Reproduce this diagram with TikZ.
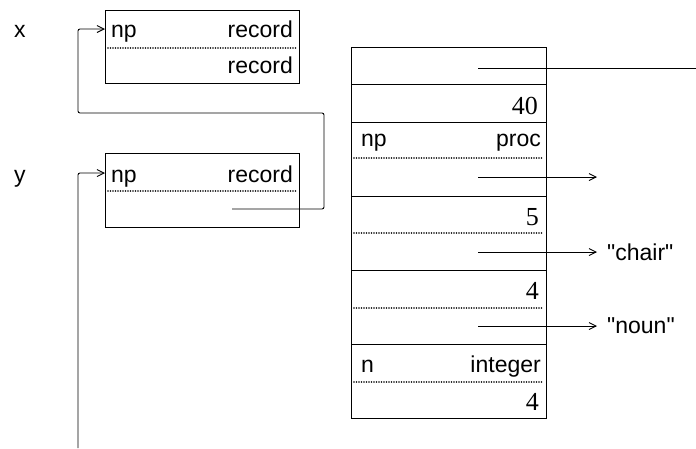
\documentclass[tikz,border=0pt]{standalone}
\usepackage{fontspec}
\setmainfont{Liberation Sans}
\newfontfamily\plainsans{Liberation Sans}[Ligatures=ResetAll]
\newfontfamily\numfont{Liberation Serif}
\usetikzlibrary{arrows.meta,calc}
\begin{document}
\begin{tikzpicture}[x=1pt,y=-1pt,
  cell/.style={draw,line width=1pt,inner sep=0pt,anchor=north west,minimum width=195pt},
  dots/.style={line width=1.7pt,dash pattern=on 0pt off 2.5pt,line cap=round},
  lab/.style={font=\fontsize{23}{27}\selectfont,inner sep=0pt},
  num/.style={font=\fontsize{26}{30}\selectfont\numfont,inner sep=0pt},
  wire/.style={line width=0.9pt},
  conn/.style={line width=0.9pt,-{Straight Barb[length=7pt,width=7pt]}}]
\useasboundingbox (0,0) rectangle (696,448);
% variable labels
\node[lab,anchor=base west] (lx) at (14,37) {x};
\node[lab,anchor=base west] (ly) at (14,182) {y};
% box x
\node[cell,minimum width=194pt,minimum height=73pt] (bx) at (105,10) {};
\draw[dots] (108,48) -- (296,48);
\node[lab,anchor=base west] (bxnp) at (111,37) {np};
\node[lab,anchor=base east] (bxr1) at (293,37) {record};
\node[lab,anchor=base east] (bxr2) at (293,73) {record};
% box y
\node[cell,minimum width=194pt,minimum height=74pt] (by) at (105,153) {};
\draw[dots] (108,191) -- (296,191);
\node[lab,anchor=base west] (bynp) at (111,182) {np};
\node[lab,anchor=base east] (byr1) at (293,182) {record};
% connectors of the boxes
\coordinate (py) at (232,209);
\coordinate (yfoot) at (78,448);
\draw[conn,rounded corners=2pt] (py) -- (324,209) -- (324,113) -- (78,113) -- (78,29) -- ($(bx.north west)+(0,19)$);
\draw[conn,rounded corners=2pt] (yfoot) -- (78,173) -- ($(by.north west)+(0,20)$);
% stack
\node[cell,minimum height=37pt] (c1) at (351,47) {};
\node[cell,minimum height=38pt] (c2) at (351,84) {};
\node[cell,minimum height=74pt] (c3) at (351,122) {};
\node[cell,minimum height=74pt] (c4) at (351,196) {};
\node[cell,minimum height=74pt] (c5) at (351,270) {};
\node[cell,minimum height=74pt] (c6) at (351,344) {};
\draw[dots] (354,158) -- (543,158);
\draw[dots] (354,233) -- (543,233);
\draw[dots] (354,308) -- (543,308);
\draw[dots] (354,382) -- (543,382);
\node[num,anchor=base east] (t40) at (538,114) {40};
\node[lab,anchor=base west] (tnp) at (361,146) {np};
\node[lab,anchor=base east] (tproc) at (541,146) {proc};
\node[num,anchor=base east] (t5) at (539,225) {5};
\node[num,anchor=base east] (t4a) at (539,299) {4};
\node[lab,anchor=base west] (tn) at (361,372) {n};
\node[lab,anchor=base east] (tint) at (541,372) {integer};
\node[num,anchor=base east] (t4b) at (539,410) {4};
% pointers of the stack
\coordinate (p1) at (478,68);
\coordinate (e1) at (696,68);
\draw[wire] (p1) -- (e1);
\coordinate (p3) at (478,177);
\coordinate (e3) at (597,177);
\draw[conn] (p3) -- (e3);
\node[lab,anchor=west,inner xsep=10pt,font=\fontsize{23}{27}\selectfont\plainsans] (chair) at (597,252) {"chair"};
\node[lab,anchor=west,inner xsep=10pt,font=\fontsize{23}{27}\selectfont\plainsans] (noun) at (597,326) {"noun"};
\coordinate (p4) at (478,252);
\coordinate (p5) at (478,326);
\draw[conn] (p4) -- (chair.west);
\draw[conn] (p5) -- (noun.west);
\end{tikzpicture}
\end{document}
